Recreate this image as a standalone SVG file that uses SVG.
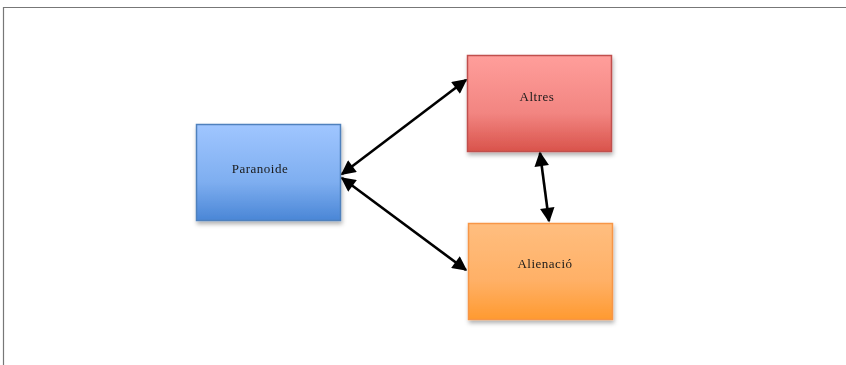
<svg xmlns="http://www.w3.org/2000/svg" width="846" height="365" viewBox="0 0 846 365">
<defs>
<style>
.box{stroke-width:1.5}
.lbl{font-family:"Liberation Serif","DejaVu Serif",serif;font-size:13px;letter-spacing:0.5px;fill:#1a1a1a;text-anchor:middle}
.conn{stroke:#000;stroke-width:2.6;fill:none;marker-start:url(#ah);marker-end:url(#ah)}
</style>
<linearGradient id="gb" x1="0" y1="0" x2="0" y2="1"><stop offset="0" stop-color="#a0c6ff"/><stop offset="0.6" stop-color="#7eaef0"/><stop offset="1" stop-color="#4a86d6"/></linearGradient>
<linearGradient id="gr" x1="0" y1="0" x2="0" y2="1"><stop offset="0" stop-color="#ff9e9b"/><stop offset="0.6" stop-color="#f28581"/><stop offset="1" stop-color="#d9534b"/></linearGradient>
<linearGradient id="go" x1="0" y1="0" x2="0" y2="1"><stop offset="0" stop-color="#ffbe7f"/><stop offset="0.6" stop-color="#ffb066"/><stop offset="1" stop-color="#ff9a30"/></linearGradient>
<filter id="sh" x="-10%" y="-10%" width="125%" height="130%"><feDropShadow dx="1" dy="3" stdDeviation="2" flood-color="#000" flood-opacity="0.3"/></filter>
<marker id="ah" viewBox="0 0 10 10" refX="9" refY="5" markerWidth="6.2" markerHeight="5.6" orient="auto-start-reverse" markerUnits="strokeWidth"><path d="M0,0 L10,5 L0,10 z" fill="#000"/></marker>
</defs>
<rect width="846" height="365" fill="#fff"/>
<path d="M3.5,365 V7.5 H846" fill="none" stroke="#777" stroke-width="1.2"/>
<g id="paranoide" filter="url(#sh)">
<rect class="box" x="196.5" y="124.5" width="144" height="96" fill="url(#gb)" stroke="#4f81bd"/>
<text class="lbl" x="260" y="173">Paranoide</text>
</g>
<g id="altres" filter="url(#sh)">
<rect class="box" x="467.5" y="55.5" width="144" height="96" fill="url(#gr)" stroke="#c0504d"/>
<text class="lbl" x="537" y="101">Altres</text>
</g>
<g id="alienacio" filter="url(#sh)">
<rect class="box" x="468.5" y="223.5" width="144" height="96" fill="url(#go)" stroke="#f79646"/>
<text class="lbl" x="545" y="268">Alienació</text>
</g>
<g id="connectors">
<line class="conn" x1="342" y1="174" x2="466" y2="80"/>
<line class="conn" x1="342" y1="178" x2="466" y2="270"/>
<line class="conn" x1="540" y1="153" x2="549" y2="221"/>
</g>
</svg>
